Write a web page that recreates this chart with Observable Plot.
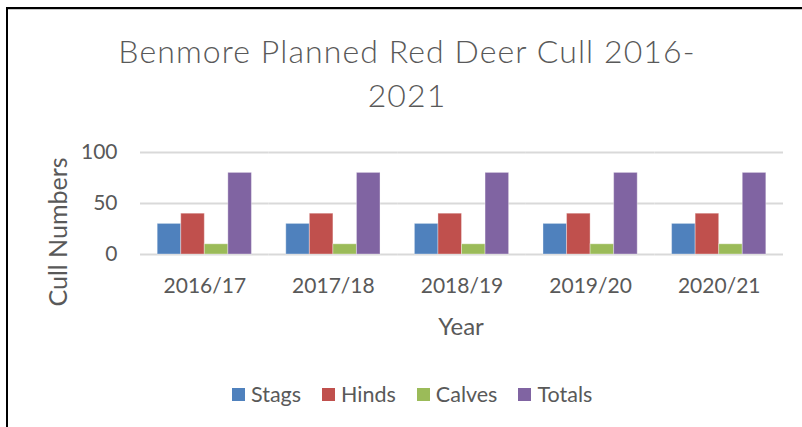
<!DOCTYPE html>
<html>
<head>
<meta charset="utf-8">
<script src="https://cdn.jsdelivr.net/npm/d3@7"></script>
<script src="https://cdn.jsdelivr.net/npm/@observablehq/plot@0.6"></script>
<style>
  html, body { margin: 0; padding: 0; background: #fff; }
  #page { position: relative; width: 802px; height: 427px; overflow: hidden; background: #fff; font-family: Lato, "Open Sans", sans-serif; color: #595959; }
  #frame { position: absolute; left: 6px; top: 7px; width: 820px; height: 440px; border-top: 2px solid #000; border-left: 2px solid #000; }
  #frame2 { position: absolute; left: 8px; top: 9px; width: 800px; height: 1px; background: #c8c8c8; }
  #title { position: absolute; left: 0; top: 29px; width: 814px; text-align: center; font-size: 32px; letter-spacing: 1.1px; line-height: 44px; font-weight: 300; color: #595959; }
  #chart { position: absolute; left: 0; top: 130px; }
  #ylabel { position: absolute; left: 57px; top: 232px; transform: translate(-50%, -50%) rotate(-90deg); font-size: 25px; white-space: nowrap; }
  #xlabel { position: absolute; left: 461px; top: 325px; transform: translate(-50%, -50%); font-size: 24px; }
  #legend { position: absolute; left: 232px; top: 381px; display: flex; align-items: center; gap: 21px; font-size: 21.5px; }
  .item { display: flex; align-items: center; gap: 6px; }
  .sw { width: 13px; height: 13px; display: inline-block; }
</style>
</head>
<body>
<div id="page">
  <div id="frame"></div>
  <div id="frame2"></div>
  <div id="title">Benmore Planned Red Deer Cull 2016-<br>2021</div>
  <div id="chart"></div>
  <div id="ylabel">Cull Numbers</div>
  <div id="xlabel">Year</div>
  <div id="legend"></div>
</div>
<script>
const years = ["2016/17", "2017/18", "2018/19", "2019/20", "2020/21"];
const seriesNames = ["Stags", "Hinds", "Calves", "Totals"];
const stags = [30, 30, 30, 30, 30];
const hinds = [40, 40, 40, 40, 40];
const calves = [10, 10, 10, 10, 10];
const totals = [80, 80, 80, 80, 80];
const colors = ["#4F81BD", "#C0504D", "#9BBB59", "#8064A2"];
const yTicks = [0, 50, 100];

const seriesValues = [stags, hinds, calves, totals];
const data = years.flatMap((yr, i) => seriesNames.map((s, j) => ({year: yr, series: s, value: seriesValues[j][i]})));

const chart = Plot.plot({
  width: 802,
  height: 215,
  marginLeft: 140,
  marginRight: 19,
  marginTop: 22,
  marginBottom: 91,
  style: {fontFamily: "Lato, 'Open Sans', sans-serif", color: "#595959", background: "transparent", overflow: "visible"},
  fx: {domain: years, padding: 0, round: false, label: null},
  x: {domain: seriesNames, paddingInner: 0, paddingOuter: 0.73, round: false, axis: null},
  y: {domain: [0, 100], axis: null},
  color: {domain: seriesNames, range: colors},
  marks: [
    Plot.gridY(yTicks, {stroke: "#d9d9d9", strokeOpacity: 1, strokeWidth: 2}),
    Plot.barY(data, {fx: "year", x: "series", y: "value", fill: "series", stroke: "#ffffff", strokeOpacity: 0.35, strokeWidth: 1}),
    Plot.axisY(yTicks, {tickSize: 0, tickPadding: 23, fontSize: 21, tickFormat: d => String(d), label: null}),
    Plot.axisFx({anchor: "bottom", tickSize: 0, tickPadding: 24, fontSize: 21, label: null})
  ]
});
document.getElementById("chart").appendChild(chart);

const legend = document.getElementById("legend");
seriesNames.forEach((s, i) => {
  const item = document.createElement("div");
  item.className = "item";
  const sw = document.createElement("span");
  sw.className = "sw";
  sw.style.background = colors[i];
  const t = document.createElement("span");
  t.textContent = s;
  item.appendChild(sw);
  item.appendChild(t);
  legend.appendChild(item);
});
</script>
</body>
</html>
